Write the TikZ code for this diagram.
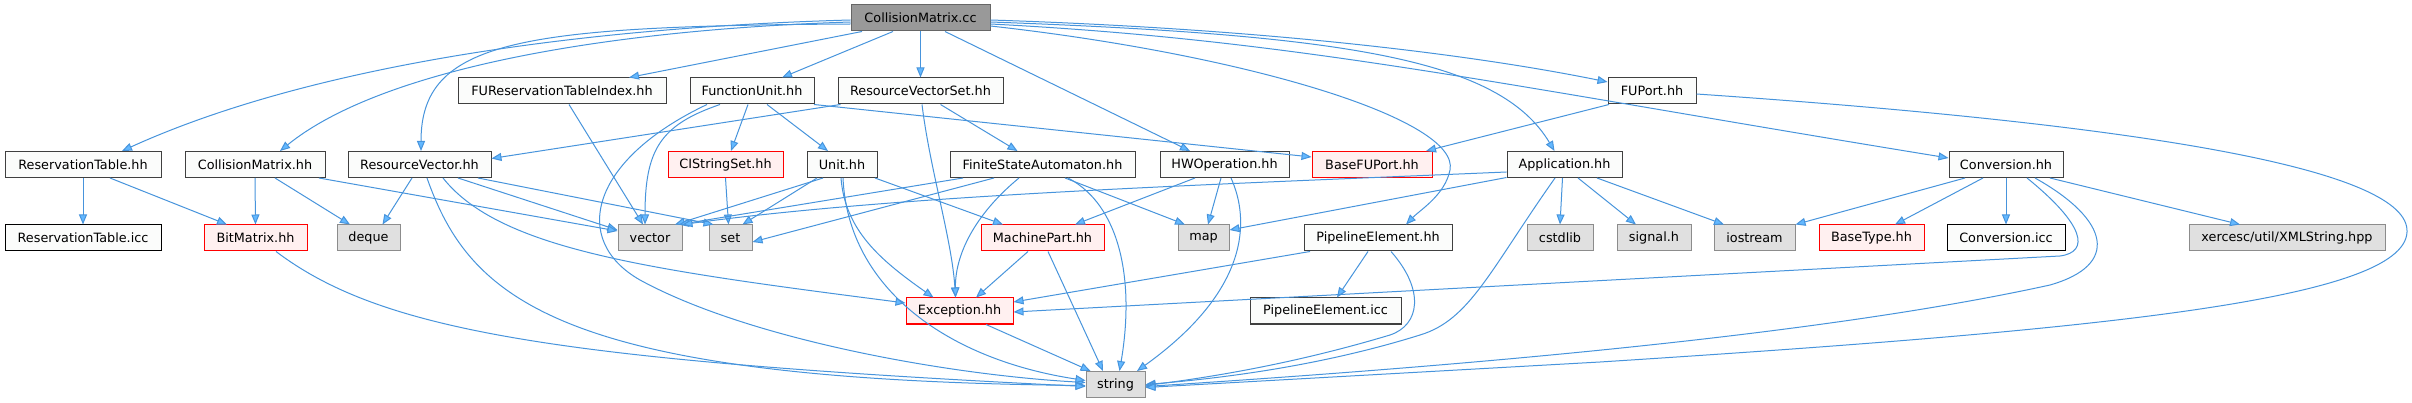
\documentclass[tikz,border=0pt]{standalone}
\usepackage{fontspec}
\setmainfont{DejaVu Sans}
\usetikzlibrary{arrows.meta}
\definecolor{edgecol}{HTML}{4794DC}
\definecolor{arrfill}{HTML}{63B8FF}
\definecolor{nbord}{HTML}{404040}
\definecolor{nfill}{HTML}{FBFCFB}
\definecolor{gfill}{HTML}{E0E0E0}
\definecolor{gbord}{HTML}{8C8C8C}
\definecolor{rfill}{HTML}{FFF0F0}
\definecolor{rootfill}{HTML}{999999}
\definecolor{rootbord}{HTML}{666666}
\tikzset{
  nb/.style={draw=nbord, fill=nfill, line width=1pt, minimum height=26pt, inner sep=0pt, font=\fontsize{12.8}{15}\selectfont},
  nicc/.style={nb, draw=black},
  ngray/.style={nb, draw=gbord, fill=gfill},
  nred/.style={nb, draw=red, fill=rfill},
  nroot/.style={nb, draw=rootbord, fill=rootfill},
  edge/.style={draw=edgecol, line width=1pt, -{Triangle[length=10pt,width=8pt,fill=arrfill]}},
}
\begin{document}
\begin{tikzpicture}[x=1pt,y=-1pt]
\useasboundingbox[fill=white] (0,0) rectangle (2412,403);
% row 0
\node[nroot, minimum width=139pt] (root) at (920.5,18) {CollisionMatrix.cc};
% row 1
\node[nb, minimum width=208pt] (furti) at (562,91) {FUReservationTableIndex.hh};
\node[nb, minimum width=124pt] (fu) at (752,91) {FunctionUnit.hh};
\node[nb, minimum width=165pt] (rvs) at (920.5,91) {ResourceVectorSet.hh};
\node[nb, minimum width=88pt] (fup) at (1652,91) {FUPort.hh};
% row 2
\node[nb, minimum width=156pt] (rth) at (83,164.5) {ReservationTable.hh};
\node[nb, minimum width=140pt] (cmh) at (255,164.5) {CollisionMatrix.hh};
\node[nb, minimum width=143pt] (rvh) at (419.5,164.5) {ResourceVector.hh};
\node[nred, minimum width=115pt] (cis) at (725.5,164.5) {CIStringSet.hh};
\node[nb, minimum width=70pt] (unit) at (842,164.5) {Unit.hh};
\node[nb, minimum width=185pt] (fsa) at (1042.5,164.5) {FiniteStateAutomaton.hh};
\node[nb, minimum width=129pt] (hwo) at (1224.5,164.5) {HWOperation.hh};
\node[nred, minimum width=120pt] (bfp) at (1372,164.5) {BaseFUPort.hh};
\node[nb, minimum width=115pt] (app) at (1564.5,164.5) {Application.hh};
\node[nb, minimum width=114pt] (conv) at (2006,164.5) {Conversion.hh};
% row 3
\node[nicc, minimum width=156pt] (rti) at (83,238) {ReservationTable.icc};
\node[nred, minimum width=103pt] (bm) at (255.5,238) {BitMatrix.hh};
\node[ngray, minimum width=63pt] (deq) at (368.5,238) {deque};
\node[ngray, minimum width=64pt] (vec) at (650,238) {vector};
\node[ngray, minimum width=43pt] (set) at (730.5,238) {set};
\node[nred, minimum width=123pt] (mp) at (1042.5,238) {MachinePart.hh};
\node[ngray, minimum width=51pt] (map) at (1203.5,238) {map};
\node[nb, minimum width=148pt] (peh) at (1378,238) {PipelineElement.hh};
\node[ngray, minimum width=66pt] (cstd) at (1560,238) {cstdlib};
\node[ngray, minimum width=74pt] (sig) at (1654,238) {signal.h};
\node[ngray, minimum width=81pt] (ios) at (1754.5,238) {iostream};
\node[nred, minimum width=105pt] (bt) at (1871.5,238) {BaseType.hh};
\node[nicc, minimum width=118pt] (convi) at (2006,238) {Conversion.icc};
\node[ngray, minimum width=196pt] (xml) at (2287,238) {xercesc/util/XMLString.hpp};
% row 4
\node[nred, minimum width=107pt] (exc) at (959.5,311) {Exception.hh};
\node[nb, minimum width=151pt] (pei) at (1325.5,311) {PipelineElement.icc};
% row 5
\node[ngray, minimum width=59pt] (str) at (1115.5,384.5) {string};

% edges from root
\draw[edge] ([yshift=-2pt]root.west) .. controls (560,28) and (300,70) .. ([xshift=39pt]rth.north);
\draw[edge] ([yshift=-4pt]root.west) .. controls (600,30) and (380,70) .. ([xshift=25pt]cmh.north);
\draw[edge] ([yshift=-6pt]root.west) .. controls (520,26) and (421,40) .. ([xshift=1.5pt]rvh.north);
\draw[edge] ([xshift=-58.5pt]root.south) -- ([xshift=67pt]furti.north);
\draw[edge] ([xshift=-27.5pt]root.south) -- ([xshift=30pt]fu.north);
\draw[edge] (root.south) -- (rvs.north);
\draw[edge] ([xshift=24.5pt]root.south) -- ([xshift=-34.5pt]hwo.north);
\draw[edge] ([yshift=-8pt]root.east) .. controls (1250,55) and (1460,120) .. (1450,170) .. controls (1445,195) and (1420,210) .. ([xshift=28pt]peh.north);
\draw[edge] ([yshift=-4pt]root.east) .. controls (1350,35) and (1500,60) .. ([xshift=-10pt]app.north);
\draw[edge] ([yshift=-2pt]root.east) .. controls (1300,30) and (1500,60) .. ([yshift=9pt]fup.west);
\draw[edge] ([yshift=-6pt]root.east) .. controls (1300,40) and (1500,85) .. ([yshift=6.5pt]conv.west);

% ResourceVectorSet
\draw[edge] ([xshift=-80pt]rvs.south) -- ([yshift=6pt]rvh.east);
\draw[edge] ([xshift=20pt]rvs.south) -- ([xshift=-25pt]fsa.north);
\draw[edge] ([xshift=1.5pt]rvs.south) .. controls (930,170) and (952,240) .. ([xshift=-4pt]exc.north);

% FunctionUnit
\draw[edge] ([xshift=-4pt]fu.south) -- ([xshift=5.5pt]cis.north);
\draw[edge] ([xshift=15pt]fu.south) -- ([xshift=-14pt]unit.north);
\draw[edge] ([xshift=-32pt]fu.south) .. controls (660,125) and (645,150) .. ([xshift=-5pt]vec.north);
\draw[edge] ([xshift=-45pt]fu.south) .. controls (590,160) and (570,240) .. (640,280) .. controls (750,340) and (950,375) .. ([yshift=2pt]str.west);
\draw[edge] ([xshift=62pt]fu.south) -- ([yshift=7.5pt]bfp.west);

% ResourceVector
\draw[edge] ([xshift=-7.5pt]rvh.south) -- ([xshift=14pt]deq.north);
\draw[edge] ([xshift=38.5pt]rvh.south) -- ([yshift=8pt]vec.west);
\draw[edge] ([xshift=58.5pt]rvh.south) -- ([xshift=-17pt]set.north);
\draw[edge] ([xshift=23.5pt]rvh.south) .. controls (500,250) and (650,270) .. ([yshift=8pt]exc.west);
\draw[edge] ([xshift=7.5pt]rvh.south) .. controls (470,300) and (560,380) .. ([yshift=-1pt]str.west);

% CollisionMatrix.hh
\draw[edge] (cmh.south) -- (bm.north);
\draw[edge] ([xshift=20pt]cmh.south) -- ([xshift=-18.5pt]deq.north);
\draw[edge] ([xshift=64pt]cmh.south) -- ([yshift=7pt]vec.west);

% ReservationTable.hh
\draw[edge] (rth.south) -- (rti.north);
\draw[edge] ([xshift=27pt]rth.south) -- ([xshift=-28.5pt]bm.north);

% BitMatrix
\draw[edge] ([xshift=20.5pt]bm.south) .. controls (380,330) and (550,360) .. ([yshift=-2pt]str.west);

% FUReservationTableIndex
\draw[edge] ([xshift=7pt]furti.south) -- ([xshift=-7pt]vec.north);

% CIStringSet
\draw[edge] (cis.south) -- ([xshift=-2pt]set.north);

% Unit
\draw[edge] ([xshift=-19pt]unit.south) -- ([xshift=25pt]vec.north);
\draw[edge] ([xshift=-25pt]unit.south) -- ([xshift=12pt]set.north);
\draw[edge] ([xshift=33pt]unit.south) -- ([xshift=-39.5pt]mp.north);
\draw[edge] ([xshift=-1pt]unit.south) .. controls (845,230) and (880,260) .. ([xshift=-26pt]exc.north);
\draw[edge] ([xshift=1pt]unit.south) .. controls (848,290) and (950,360) .. ([yshift=4pt]str.west);

% FiniteStateAutomaton
\draw[edge] ([xshift=-79.5pt]fsa.south) -- ([xshift=29pt]vec.north);
\draw[edge] ([xshift=-48.5pt]fsa.south) -- ([yshift=-4pt]set.east);
\draw[edge] ([xshift=22.5pt]fsa.south) -- ([xshift=-18.5pt]map.north);
\draw[edge] ([xshift=-23.5pt]fsa.south) .. controls (980,210) and (955,250) .. ([xshift=-4pt]exc.north);
\draw[edge] ([xshift=25.5pt]fsa.south) .. controls (1120,205) and (1135,280) .. ([xshift=4pt]str.north);

% HWOperation
\draw[edge] ([xshift=-29.5pt]hwo.south) -- ([xshift=32.5pt]mp.north);
\draw[edge] ([xshift=-3.5pt]hwo.south) -- ([xshift=4.5pt]map.north);
\draw[edge] ([xshift=6.5pt]hwo.south) .. controls (1250,220) and (1250,290) .. ([xshift=21.5pt]str.north);

% Application
\draw[edge] ([yshift=-7.5pt]app.west) .. controls (1200,185) and (900,195) .. (vec.north east);
\draw[edge] ([yshift=-13pt]app.west) -- ([yshift=8pt]map.east);
\draw[edge] ([xshift=-9.5pt]app.south) .. controls (1490,270) and (1470,320) .. (1420,335) .. controls (1340,360) and (1250,376) .. (str.east);
\draw[edge] ([xshift=-2pt]app.south) -- (cstd.north);
\draw[edge] ([xshift=13.5pt]app.south) -- ([xshift=-18pt]sig.north);
\draw[edge] ([xshift=32.5pt]app.south) -- ([xshift=-30.5pt]ios.north);

% PipelineElement
\draw[edge] ([xshift=-68pt]peh.south) -- ([yshift=9pt]exc.east);
\draw[edge] ([xshift=-10pt]peh.south) -- ([xshift=11.5pt]pei.north);
\draw[edge] ([xshift=13pt]peh.south) .. controls (1425,290) and (1420,325) .. (1390,335) .. controls (1300,362) and (1220,376) .. ([yshift=-1pt]str.east);

% MachinePart
\draw[edge] ([xshift=-14.5pt]mp.south) -- ([xshift=16.5pt]exc.north);
\draw[edge] ([xshift=5.5pt]mp.south) -- ([xshift=-12.5pt]str.north);

% Exception
\draw[edge] ([xshift=26.5pt]exc.south) -- ([xshift=-25pt]str.north);

% Conversion
\draw[edge] ([xshift=-41pt]conv.south) -- (ios.north east);
\draw[edge] ([xshift=-23pt]conv.south) -- ([xshift=23.5pt]bt.north);
\draw[edge] (conv.south) -- (convi.north);
\draw[edge] ([xshift=21pt]conv.south) .. controls (2085,225) and (2090,252) .. (2060,256) -- ([yshift=-1pt]exc.east);
\draw[edge] ([xshift=29pt]conv.south) .. controls (2110,220) and (2120,265) .. (2050,285) .. controls (1800,340) and (1400,370) .. ([yshift=-2pt]str.east);
\draw[edge] ([xshift=44pt]conv.south) -- ([xshift=-47pt]xml.north);

% FUPort
\draw[edge] ([xshift=-43pt]fup.south) -- ([xshift=54pt]bfp.north);
\draw[edge] ([yshift=-3pt]fup.east) .. controls (2150,125) and (2410,170) .. (2407,232) .. controls (2404,300) and (2100,330) .. (1600,362) -- ([yshift=-3pt]str.east);
\end{tikzpicture}
\end{document}
